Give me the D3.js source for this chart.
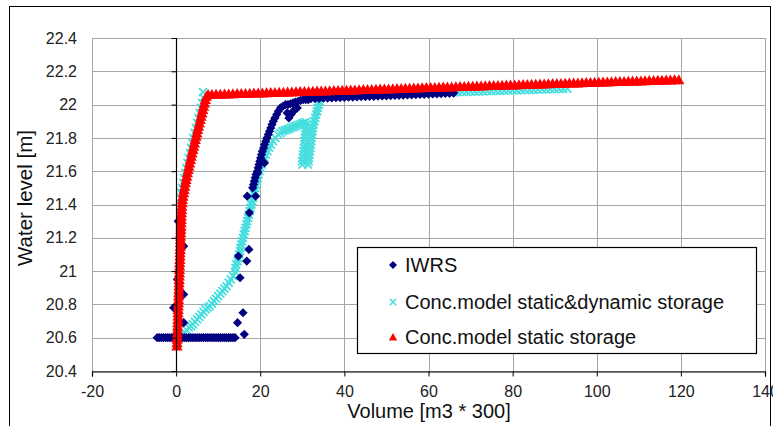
<!DOCTYPE html>
<html>
<head>
<meta charset="utf-8">
<script src="https://cdn.jsdelivr.net/npm/d3@7"></script>
<style>
  body { margin: 0; background: #fff; }
  svg { display: block; }
  text { font-family: "Liberation Sans", Arial, sans-serif; }
</style>
</head>
<body>
<svg id="chart" width="773" height="426"></svg>
<script>
// Axis ticks and labels
const xTicks = [-20, 0, 20, 40, 60, 80, 100, 120, 140];
const xTickLabels = ["-20", "0", "20", "40", "60", "80", "100", "120", "140"];
const yTicks = [20.4, 20.6, 20.8, 21, 21.2, 21.4, 21.6, 21.8, 22, 22.2, 22.4];
const yTickLabels = ["20.4", "20.6", "20.8", "21", "21.2", "21.4", "21.6", "21.8", "22", "22.2", "22.4"];
const xTitle = "Volume [m3 * 300]";
const yTitle = "Water level [m]";
const seriesNames = ["IWRS", "Conc.model static&dynamic storage", "Conc.model static storage"];

// IWRS measurements as [volume, water level]
const iwrs = [
  [-4.5,20.6],[-4,20.6],[-3.5,20.6],[-3,20.6],[-2.5,20.6],[-2,20.6],[-1.5,20.6],[-1,20.6],[-0.5,20.6],[0,20.6],
  [0.5,20.6],[1,20.6],[1.5,20.6],[2,20.6],[2.5,20.6],[3,20.6],[3.5,20.6],[4,20.6],[4.5,20.6],[5,20.6],
  [5.5,20.6],[6,20.6],[6.5,20.6],[7,20.6],[7.5,20.6],[8,20.6],[8.5,20.6],[9,20.6],[9.5,20.6],[10,20.6],
  [10.5,20.6],[11,20.6],[11.5,20.6],[12,20.6],[12.5,20.6],[13,20.6],[13.5,20.6],[14,20.6],
  [1.8,21.15],[1.8,20.86],[1.8,20.69],[0.3,20.95],[0.5,21.3],[-0.6,20.78],
  [16.2,20.62],[14.6,20.69],[15.9,20.75],[15.2,20.96],[16.8,21.06],[14.8,21.09],[17.3,21.13],
  [17.4,21.35],[16.9,21.45],[18.9,21.45],[19.4,21.59],[21.0,21.65],
  [18.2,21.50],[18.4,21.52],[18.6,21.54],[18.8,21.56],[19.0,21.58],[19.3,21.60],[19.5,21.62],[19.7,21.64],
  [19.9,21.66],[20.1,21.68],[20.3,21.70],[20.5,21.72],[20.8,21.74],[21.0,21.76],[21.3,21.78],[21.6,21.80],
  [21.9,21.82],[22.2,21.84],[22.5,21.86],[22.8,21.88],[23.1,21.90],[23.5,21.92],[23.9,21.94],[24.3,21.96],
  [24.8,21.98],[25.4,21.99],[26.0,22.0],[26.6,22.0],[27.2,22.005],[27.8,22.01],[28.4,22.015],[29.0,22.02],
  [29.6,22.025],[30.2,22.03],[30.8,22.03],[31.4,22.03],
  [26.4,21.95],[26.8,21.92],[27.3,21.94],[27.8,21.96],[28.3,21.97],[28.8,21.98],
  [32,22.035],[33,22.036],[34,22.037],[35,22.038],[36,22.039],[37,22.040],[38,22.041],[39,22.042],
  [40,22.043],[41,22.044],[42,22.045],[43,22.046],[44,22.047],[45,22.048],[46,22.049],[47,22.050],
  [48,22.051],[49,22.052],[50,22.053],[51,22.054],[52,22.055],[53,22.056],[54,22.057],[55,22.058],
  [56,22.059],[57,22.060],[58,22.061],[59,22.062],[60,22.063],[61,22.064],[62,22.065],[63,22.066],
  [64,22.067],[65,22.068],[66,22.069]
];

// Conceptual model, static & dynamic storage, as [volume, water level]
const dynamicStorage = [
  // rising limb
  [1.0,20.600],[1.5,20.615],[2.0,20.630],[2.5,20.645],[3.0,20.660],[3.5,20.670],[4.0,20.680],[4.5,20.695],
  [5.0,20.710],[5.5,20.725],[6.0,20.740],[6.5,20.755],[7.0,20.770],[7.5,20.780],[8.0,20.790],[8.5,20.805],
  [9.0,20.820],[9.5,20.835],[10.0,20.850],[10.5,20.865],[11.0,20.880],[11.5,20.895],[12.0,20.910],[12.5,20.930],
  [13.0,20.950],[13.5,20.970],[14.0,20.995],
  [14.1,21.02],[14.3,21.04],[14.6,21.06],[14.8,21.08],[15.0,21.10],[15.2,21.12],[15.3,21.14],[15.5,21.16],
  [15.7,21.18],[15.9,21.20],[16.1,21.22],[16.3,21.24],[16.5,21.26],[16.7,21.28],[16.9,21.30],[17.1,21.32],
  [17.3,21.34],[17.5,21.36],[17.7,21.38],[17.9,21.40],[18.1,21.42],[18.3,21.44],[18.5,21.46],[18.7,21.48],
  [18.8,21.50],[19.0,21.52],[19.2,21.54],[19.4,21.56],[19.6,21.58],[19.8,21.60],[20.1,21.62],[20.4,21.64],
  [20.7,21.66],[21.0,21.68],[21.3,21.70],[21.7,21.72],[22.1,21.74],[22.5,21.76],[23.0,21.78],[23.6,21.80],
  [24.3,21.82],
  [24.8,21.83],[25.3,21.84],[25.8,21.845],[26.3,21.85],[26.8,21.855],[27.3,21.86],[27.8,21.865],[28.3,21.87],
  [28.8,21.875],[29.3,21.88],[29.8,21.885],[30.3,21.89],[30.8,21.895],
  // drop and recovery
  [31.0,21.88],[30.9,21.86],[30.8,21.84],[30.7,21.82],[30.6,21.80],[30.5,21.78],[30.5,21.76],[30.4,21.74],
  [30.3,21.72],[30.2,21.70],[30.1,21.68],[30.0,21.66],[30.0,21.64],
  [31.4,21.64],[31.5,21.66],[31.6,21.68],[31.7,21.70],[31.8,21.72],[31.9,21.74],[32.0,21.76],[32.1,21.78],
  [32.2,21.80],[32.3,21.82],[32.4,21.84],[32.5,21.86],[32.7,21.88],[32.9,21.90],[33.1,21.92],[33.3,21.94],
  [33.5,21.96],[33.7,21.98],[33.9,22.00],[34.1,22.02],[34.3,22.04],
  // upper branch
  [35,22.050],[36,22.051],[37,22.052],[38,22.052],[39,22.053],[40,22.054],[41,22.055],[42,22.056],
  [43,22.056],[44,22.057],[45,22.058],[46,22.059],[47,22.059],[48,22.060],[49,22.061],[50,22.062],
  [51,22.063],[52,22.063],[53,22.064],[54,22.065],[55,22.066],[56,22.067],[57,22.067],[58,22.068],
  [59,22.069],[60,22.070],[61,22.070],[62,22.071],[63,22.072],[64,22.073],[65,22.074],[66,22.074],
  [67,22.075],[68,22.076],[69,22.077],[70,22.078],[71,22.078],[72,22.079],[73,22.080],[74,22.081],
  [75,22.081],[76,22.082],[77,22.083],[78,22.084],[79,22.085],[80,22.085],[81,22.086],[82,22.087],
  [83,22.088],[84,22.089],[85,22.089],[86,22.090],[87,22.091],[88,22.092],[89,22.093],[90,22.093],
  [91,22.094],[92,22.095],[93,22.096],
  // falling limb
  [6.4,22.075],[6.5,22.04],[6.2,22.01],[5.9,21.98],[5.6,21.95],[5.3,21.92],[5.0,21.89],[4.7,21.86],
  [4.4,21.83],[4.1,21.80],[3.85,21.77],[3.55,21.74],[3.3,21.71],[3.0,21.68],[2.7,21.65],[2.45,21.62],
  [2.2,21.59],[1.95,21.56],[1.7,21.53],[1.45,21.50],[1.25,21.47],[1.05,21.44],
  [1.2,21.35],[1.05,21.2],[0.9,21.05],[0.7,20.9],[0.55,20.75],[0.35,20.62]
];

// Conceptual model, static storage only, as [volume, water level]
const staticStorage = [
  [0.20,20.55],[0.22,20.57],[0.25,20.59],[0.28,20.61],[0.30,20.63],[0.33,20.65],[0.36,20.67],[0.38,20.69],
  [0.41,20.71],[0.44,20.73],[0.46,20.75],[0.49,20.77],[0.52,20.79],[0.54,20.81],[0.57,20.83],[0.60,20.85],
  [0.62,20.87],[0.65,20.89],[0.68,20.91],[0.70,20.93],[0.73,20.95],[0.76,20.97],[0.78,20.99],[0.81,21.01],
  [0.84,21.03],[0.86,21.05],[0.89,21.07],[0.92,21.09],[0.94,21.11],[0.97,21.13],[1.00,21.15],[1.02,21.17],
  [1.05,21.19],[1.08,21.21],[1.10,21.23],[1.13,21.25],[1.16,21.27],[1.18,21.29],[1.21,21.31],[1.24,21.33],
  [1.27,21.35],[1.31,21.37],[1.36,21.39],[1.42,21.41],
  [1.50,21.43],[1.62,21.45],[1.76,21.47],[1.90,21.49],[2.05,21.51],[2.20,21.53],[2.36,21.55],[2.52,21.57],
  [2.69,21.59],[2.86,21.61],[3.04,21.63],[3.22,21.65],[3.40,21.67],[3.59,21.69],[3.78,21.71],[3.97,21.73],
  [4.16,21.75],[4.35,21.77],[4.55,21.79],[4.74,21.81],[4.94,21.83],[5.13,21.85],[5.33,21.87],[5.53,21.89],
  [5.73,21.91],[5.93,21.93],[6.13,21.95],[6.33,21.97],[6.53,21.99],[6.74,22.01],[6.95,22.03],[7.20,22.05],
  [7.60,22.06],
  [8.5,22.061],[9.5,22.062],[10.5,22.062],[11.5,22.063],[12.5,22.064],[13.5,22.065],[14.5,22.066],[15.5,22.066],[16.5,22.067],[17.5,22.068],
  [18.5,22.069],[19.5,22.070],[20.5,22.070],[21.5,22.071],[22.5,22.072],[23.5,22.073],[24.5,22.074],[25.5,22.074],[26.5,22.075],[27.5,22.076],
  [28.5,22.077],[29.5,22.078],[30.5,22.078],[31.5,22.079],[32.5,22.080],[33.5,22.081],[34.5,22.082],[35.5,22.082],[36.5,22.083],[37.5,22.084],
  [38.5,22.085],[39.5,22.086],[40.5,22.086],[41.5,22.087],[42.5,22.088],[43.5,22.089],[44.5,22.090],[45.5,22.090],[46.5,22.091],[47.5,22.092],
  [48.5,22.093],[49.5,22.094],[50.5,22.094],[51.5,22.095],[52.5,22.096],[53.5,22.097],[54.5,22.098],[55.5,22.098],[56.5,22.099],[57.5,22.100],
  [58.5,22.101],[59.5,22.102],[60.5,22.102],[61.5,22.103],[62.5,22.104],[63.5,22.105],[64.5,22.106],[65.5,22.106],[66.5,22.107],[67.5,22.108],
  [68.5,22.109],[69.5,22.110],[70.5,22.110],[71.5,22.111],[72.5,22.112],[73.5,22.113],[74.5,22.114],[75.5,22.114],[76.5,22.115],[77.5,22.116],
  [78.5,22.117],[79.5,22.118],[80.5,22.118],[81.5,22.119],[82.5,22.120],[83.5,22.121],[84.5,22.122],[85.5,22.122],[86.5,22.123],[87.5,22.124],
  [88.5,22.125],[89.5,22.126],[90.5,22.126],[91.5,22.127],[92.5,22.128],[93.5,22.129],[94.5,22.130],[95.5,22.130],[96.5,22.131],[97.5,22.132],
  [98.5,22.133],[99.5,22.134],[100.5,22.134],[101.5,22.135],[102.5,22.136],[103.5,22.137],[104.5,22.138],[105.5,22.138],[106.5,22.139],[107.5,22.140],
  [108.5,22.141],[109.5,22.142],[110.5,22.142],[111.5,22.143],[112.5,22.144],[113.5,22.145],[114.5,22.146],[115.5,22.146],[116.5,22.147],[117.5,22.148],
  [118.5,22.149],[119.5,22.150]
];

const svg = d3.select("#chart");
const plot = { left: 92, right: 765, top: 38, bottom: 371 };

const x = d3.scaleLinear().domain([-20, 140]).range([plot.left, plot.right]);
const y = d3.scaleLinear().domain([20.4, 22.4]).range([plot.bottom, plot.top]);

// Outer frame
svg.append("rect").attr("x", 9.5).attr("y", 6.5).attr("width", 761).attr("height", 440)
  .attr("fill", "#fff").attr("stroke", "#000").attr("stroke-width", 1);

// Gridlines
const grid = svg.append("g").attr("stroke", "#a6a6a6").attr("stroke-width", 1);
grid.selectAll("line.h").data(yTicks).join("line").attr("class", "h")
  .attr("x1", plot.left).attr("x2", plot.right)
  .attr("y1", d => Math.round(y(d)) + 0.5).attr("y2", d => Math.round(y(d)) + 0.5);
grid.selectAll("line.v").data(xTicks).join("line").attr("class", "v")
  .attr("y1", plot.top).attr("y2", plot.bottom)
  .attr("x1", d => Math.round(x(d)) + 0.5).attr("x2", d => Math.round(x(d)) + 0.5);

// Marker shapes
const diamond = r => `M0,${-r}L${r},0L0,${r}L${-r},0Z`;
const triangle = (hw, h) => `M0,${-h * 0.55}L${hw},${h * 0.45}L${-hw},${h * 0.45}Z`;
const cross = r => `M${-r},${-r}L${r},${r}M${r},${-r}L${-r},${r}`;

const marks = svg.append("g");

// Static & dynamic storage model (crosses)
marks.append("g").selectAll("path").data(dynamicStorage).join("path")
  .attr("transform", d => `translate(${x(d[0])},${y(d[1])})`)
  .attr("d", cross(4)).attr("fill", "none").attr("stroke", "#45dede").attr("stroke-width", 1.8);

// IWRS (diamonds)
marks.append("g").selectAll("path").data(iwrs).join("path")
  .attr("transform", d => `translate(${x(d[0])},${y(d[1])})`)
  .attr("d", diamond(4.6)).attr("fill", "#000080");

// Static storage model (triangles)
marks.append("g").selectAll("path").data(staticStorage).join("path")
  .attr("transform", d => `translate(${x(d[0])},${y(d[1])})`)
  .attr("d", triangle(5.6, 10)).attr("fill", "#ff0000");

// X axis along the bottom
const xAxis = svg.append("g").attr("transform", `translate(0,${plot.bottom + 0.5})`)
  .call(d3.axisBottom(x).tickValues(xTicks).tickSize(5).tickPadding(9)
    .tickFormat((d, i) => xTickLabels[i]));
xAxis.select(".domain").attr("stroke", "#000").attr("stroke-width", 1.2);
xAxis.selectAll(".tick line").attr("stroke", "#000");
xAxis.selectAll("text").attr("font-size", 16).attr("fill", "#222")
  .attr("font-family", "'Liberation Sans', Arial, sans-serif");

// Vertical axis line crossing at volume 0
const yAxis = svg.append("g").attr("transform", `translate(${Math.round(x(0)) + 0.5},0)`)
  .call(d3.axisLeft(y).tickValues(yTicks).tickSize(5).tickFormat(""));
yAxis.select(".domain").attr("stroke", "#000").attr("stroke-width", 1.2).attr("d", `M0,${plot.top}V${plot.bottom}`);
yAxis.selectAll(".tick line").attr("stroke", "#000");

// Level labels along the left edge
const yLab = svg.append("g").attr("transform", `translate(${plot.left},0)`)
  .call(d3.axisLeft(y).tickValues(yTicks).tickSize(0).tickPadding(15)
    .tickFormat((d, i) => yTickLabels[i]));
yLab.select(".domain").remove();
yLab.selectAll("text").attr("font-size", 16).attr("fill", "#222")
  .attr("font-family", "'Liberation Sans', Arial, sans-serif");

// Axis titles
svg.append("text").attr("x", 429).attr("y", 418).attr("text-anchor", "middle")
  .attr("font-size", 20).attr("fill", "#111").text(xTitle);
svg.append("text").attr("transform", `translate(32,198) rotate(-90)`).attr("text-anchor", "middle")
  .attr("font-size", 20.5).attr("fill", "#111").text(yTitle);

// Legend
const lg = svg.append("g");
lg.append("rect").attr("x", 357.5).attr("y", 247.5).attr("width", 399).attr("height", 106)
  .attr("fill", "#fff").attr("stroke", "#000").attr("stroke-width", 1.2);
const legendY = [265, 302, 337];
lg.append("path").attr("transform", `translate(393,${legendY[0]})`).attr("d", diamond(4)).attr("fill", "#000080");
lg.append("path").attr("transform", `translate(393,${legendY[1]})`).attr("d", cross(3.2))
  .attr("stroke", "#45dede").attr("stroke-width", 1.5).attr("fill", "none");
lg.append("path").attr("transform", `translate(393,${legendY[2]})`).attr("d", triangle(4.2, 7.5)).attr("fill", "#ff0000");
lg.selectAll("text").data(seriesNames).join("text")
  .attr("x", 405).attr("y", (d, i) => legendY[i]).attr("dy", "0.36em")
  .attr("font-size", 20).attr("fill", "#111").text(d => d);
</script>
</body>
</html>
